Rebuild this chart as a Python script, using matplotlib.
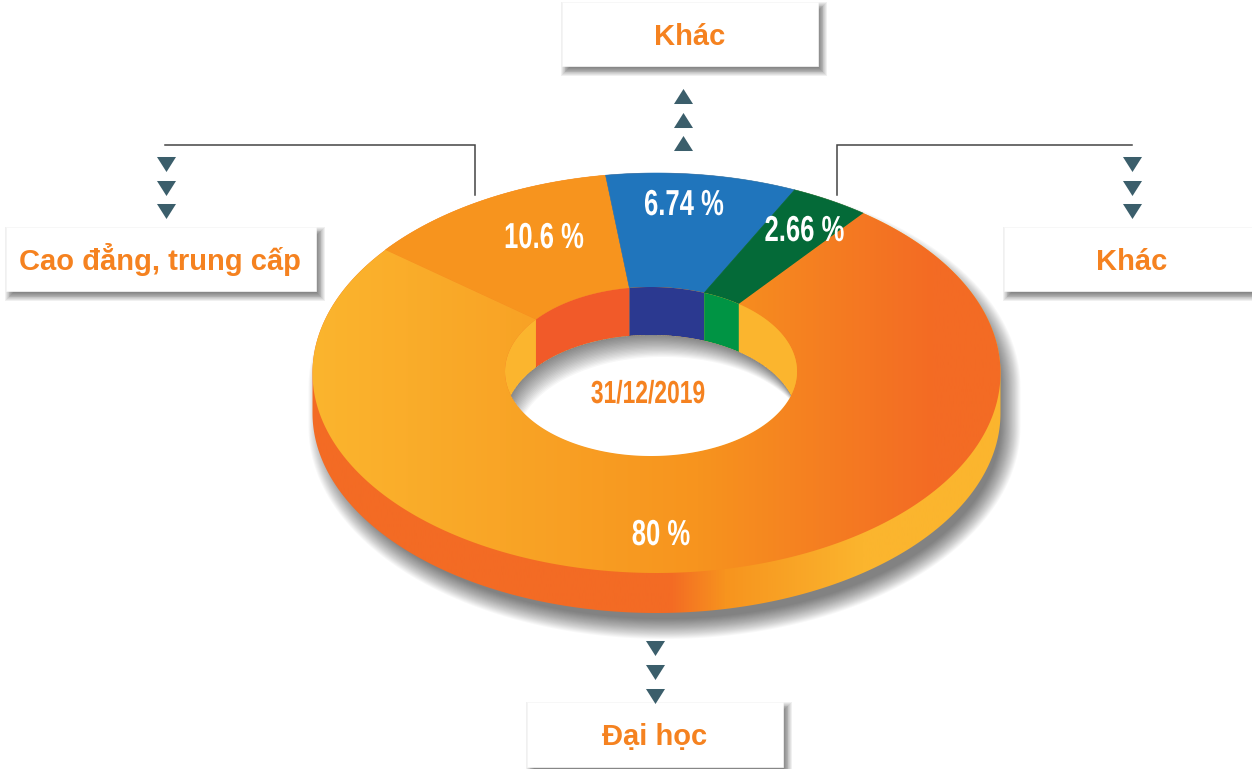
# Import libraries
import matplotlib
matplotlib.use("Agg")
import matplotlib.pyplot as plt
import numpy as np
from matplotlib.colors import LinearSegmentedColormap
from matplotlib.patches import PathPatch, Polygon, Rectangle
from matplotlib.path import Path
from matplotlib.patheffects import AbstractPathEffect
from matplotlib.transforms import Affine2D

# --- 1. Data ---
slice_labels = ["10.6 %", "6.74 %", "2.66 %", "80 %"]
slice_values = [10.6, 6.74, 2.66, 80]
# the picture does not draw the slices to scale, these are the shares as drawn
drawn_shares = [12.08, 8.94, 3.69, 75.29]
slice_colors = ["#F7941E", "#2075BC", "#046A38", None]
wall_colors = ["#F15A29", "#2B3990", "#009444", None]
category_names = ["Cao đẳng, trung cấp", "Khác", "Khác", "Đại học"]
date_label = "31/12/2019"

# --- 2. Layout (pixels of the 1252x769 picture) ---
cx, cy, rx, ry = 656.5, 373, 344, 200
hx, hy, hrx, hry = 651, 371.5, 146, 84.5
side_depth, wall_depth = 40, 48
start_angle = -52
# the blue/green edge runs a little slanted compared to the others
inner_offset = [0, 0, -2.3, 0, 0]

orange_text = "#F58220"
arrow_color = "#3B5E6B"

fig = plt.figure(figsize=(12.52, 7.69), dpi=100, facecolor="white")
ax = fig.add_axes([0, 0, 1, 1])
ax.set_xlim(0, 1252)
ax.set_ylim(769, 0)
ax.axis("off")


class Squeeze(AbstractPathEffect):
    # narrows a text around its centre, no condensed font is installed
    def __init__(self, x0, sx):
        super().__init__()
        self.x0 = x0
        self.sx = sx

    def draw_path(self, renderer, gc, tpath, affine, rgbFace=None):
        narrow = Affine2D().translate(-self.x0, 0).scale(self.sx, 1).translate(self.x0, 0)
        renderer.draw_path(gc, tpath, affine + narrow, rgbFace)


def ellipse_pts(x0, y0, a, b, t0=0.0, t1=360.0, n=360):
    # angle 0 is the top of the ellipse, going clockwise
    t = np.radians(np.linspace(t0, t1, n))
    return np.column_stack([x0 + a * np.sin(t), y0 - b * np.cos(t)])


def gradient_fill(poly, stops, zorder):
    # horizontal gradient, clipped to a polygon
    cmap = LinearSegmentedColormap.from_list("g", stops)
    im = ax.imshow(np.linspace(0, 1, 512)[None, :], cmap=cmap, aspect="auto",
                   extent=(cx - rx - 2, cx + rx + 2, 769, 0), zorder=zorder)
    im.set_clip_path(Polygon(poly, closed=True, transform=ax.transData))
    ax.set_xlim(0, 1252)
    ax.set_ylim(769, 0)


def silhouette(dx=0, dy=0, grow=0):
    top = ellipse_pts(cx + dx, cy + dy, rx + grow, ry + grow, -90, 90)
    low = ellipse_pts(cx + dx, cy + dy + side_depth, rx + grow, ry + grow, 90, 270)
    return np.vstack([top, low])


def hole_polygon(top_shift):
    a = hrx * np.sqrt(1 - (top_shift / 2 / hry) ** 2)
    x = np.linspace(-a, a, 300)
    arc = hry * np.sqrt(1 - (x / hrx) ** 2)
    upper = np.column_stack([hx + x, hy + top_shift - arc])
    lower = np.column_stack([hx + x, hy + arc])
    return np.vstack([upper, lower[::-1]])


# --- 3. Shadow below the ring ---
for grow in np.linspace(12, -8, 22):
    ax.add_patch(Polygon(silhouette(8, 14, grow), closed=True, facecolor="black",
                         edgecolor="none", alpha=0.026, zorder=1))

# --- 4. Side of the ring ---
gradient_fill(silhouette(), [(0, "#F36B24"), (0.52, "#F36B24"), (0.6, "#F7941E"),
                             (0.8, "#FBB52E"), (1, "#FBB52E")], 2)

# --- 5. Slices on top ---
edges = start_angle + 3.6 * np.cumsum([0] + drawn_shares)
inner_edges = edges + np.array(inner_offset)
for i in range(len(slice_values)):
    outer = ellipse_pts(cx, cy, rx, ry, edges[i], edges[i + 1])
    inner = ellipse_pts(hx, hy, hrx, hry, inner_edges[i], inner_edges[i + 1])
    poly = np.vstack([outer, inner[::-1]])
    if slice_colors[i] is None:
        gradient_fill(poly, [(0, "#FBB52E"), (0.56, "#F7941E"), (0.9, "#F36B24"),
                             (1, "#F36B24")], 3)
    else:
        ax.add_patch(Polygon(poly, closed=True, facecolor=slice_colors[i],
                             edgecolor=slice_colors[i], linewidth=0.4, zorder=3))

# --- 6. Inner wall of the hole ---
ax.add_patch(Polygon(ellipse_pts(hx, hy, hrx, hry), closed=True, facecolor="#FBB52E",
                     edgecolor="none", zorder=4))
for i in range(len(slice_values)):
    if wall_colors[i] is None:
        continue
    arc = ellipse_pts(hx, hy, hrx, hry, inner_edges[i], inner_edges[i + 1], 80)
    low = arc + [0, wall_depth]
    ax.add_patch(Polygon(np.vstack([arc, low[::-1]]), closed=True, facecolor=wall_colors[i],
                         edgecolor="none", zorder=5))

hole = hole_polygon(wall_depth)
ax.add_patch(Polygon(hole, closed=True, facecolor="white", edgecolor="none", zorder=6))

# soft shadow falling into the hole from the top left
clip_hole = Polygon(hole, closed=True, transform=ax.transData)
for k in np.linspace(1, 22, 18):
    rim = ellipse_pts(hx + k * 0.55, hy + wall_depth + k, hrx, hry)
    outside = np.array([[0, 0], [0, 769], [1252, 769], [1252, 0], [0, 0]])
    verts = np.vstack([outside, rim])
    codes = [Path.MOVETO] + [Path.LINETO] * 4 + [Path.MOVETO] + [Path.LINETO] * (len(rim) - 1)
    shade = PathPatch(Path(verts, codes), facecolor="black", edgecolor="none",
                      alpha=0.03, zorder=7)
    ax.add_patch(shade)
    shade.set_clip_path(clip_hole)

# --- 7. Connector lines ---
ax.plot([165, 475, 475], [145, 145, 195], color="#444444", linewidth=1.1, zorder=2,
        solid_joinstyle="miter")
ax.plot([837, 837, 1132], [195, 145, 145], color="#444444", linewidth=1.1, zorder=2,
        solid_joinstyle="miter")

# --- 8. Label boxes with their shadow ---
boxes = [(6, 227, 310, 64), (562, 2, 256, 64), (1004, 227, 260, 64), (527, 702, 256, 65)]
box_text = [(160, 270), (690, 45), (1132, 270), (655, 745)]
for (x, y, w, h), (tx, ty), name in zip(boxes, box_text, category_names):
    for grow in np.linspace(5, -3, 10):
        ax.add_patch(Rectangle((x + 4 - grow, y + 5 - grow), w + 2 * grow, h + 2 * grow,
                               facecolor="black", edgecolor="none", alpha=0.06, zorder=8.5))
    ax.add_patch(Rectangle((x, y), w, h, facecolor="white", edgecolor="#F7F7F7",
                           linewidth=0.5, zorder=9))
    ax.text(tx, ty, name, family="Liberation Sans", fontweight="bold", fontsize=21,
            color=orange_text, ha="center", va="baseline", zorder=10)

# --- 9. Arrows ---
down_tri = [(-9.5, 7.5), (9.5, 7.5), (0, -7.5)]
up_tri = [(-9.5, -7.5), (9.5, -7.5), (0, 7.5)]
ax.plot([166] * 3, [163.5, 187.5, 210.5], linestyle="none", marker=down_tri,
        markersize=13.7, color=arrow_color, markeredgewidth=0, zorder=11)
ax.plot([1132] * 3, [163.5, 187.5, 210.5], linestyle="none", marker=down_tri,
        markersize=13.7, color=arrow_color, markeredgewidth=0, zorder=11)
ax.plot([655] * 3, [648, 671.5, 695.5], linestyle="none", marker=down_tri,
        markersize=13.7, color=arrow_color, markeredgewidth=0, zorder=11)
ax.plot([683] * 3, [95.5, 119.5, 142.5], linestyle="none", marker=up_tri,
        markersize=13.7, color=arrow_color, markeredgewidth=0, zorder=11)

# --- 10. Value labels ---
label_pos = [(544, 248), (684, 215), (804.5, 241), (661, 545)]
for (tx, ty), lab in zip(label_pos, slice_labels):
    ax.text(tx, ty, lab, family="Liberation Sans", fontweight="bold", fontsize=26,
            color="white", ha="center", va="baseline", zorder=10,
            path_effects=[Squeeze(tx, 0.71)])
ax.text(648, 403, date_label, family="Liberation Sans", fontweight="bold", fontsize=23,
        color=orange_text, ha="center", va="baseline", zorder=10,
        path_effects=[Squeeze(648, 0.715)])

plt.savefig("out.png", dpi=100, facecolor="white")
